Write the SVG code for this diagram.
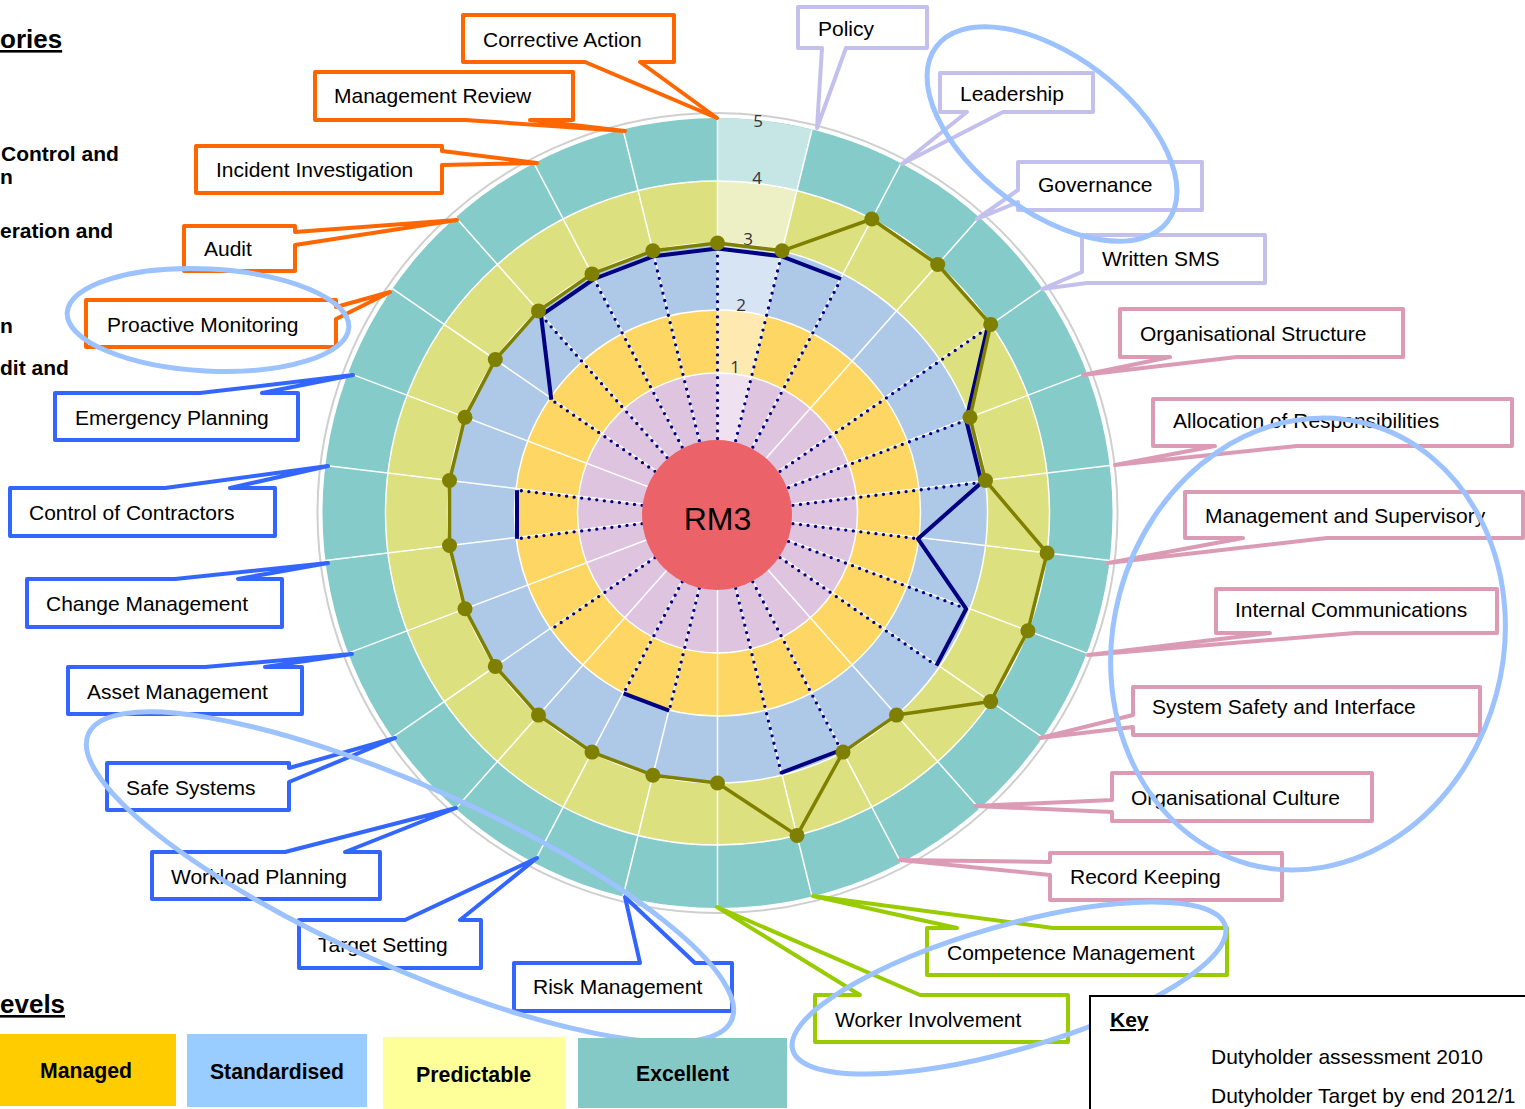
<svg xmlns="http://www.w3.org/2000/svg" width="1525" height="1109" viewBox="0 0 1525 1109">
  <style>
    .lbl { font-family: "Liberation Sans", Arial, sans-serif; font-size: 21px; fill: #000; }
    .bold { font-family: "Liberation Sans", Arial, sans-serif; font-weight: bold; fill: #000; }
    .lvl { font-family: "Open Sans", "DejaVu Sans", sans-serif; font-size: 17px; fill: #333; text-anchor: middle; }
    .spoke { stroke: #fff; stroke-width: 1.5; }
    .ring { fill: none; stroke: #fff; stroke-width: 1.5; }
    .dots { stroke: #000080; stroke-width: 3.3; stroke-linecap: round; stroke-dasharray: 0 7.6; fill: none; }
    .navy { stroke: #000080; stroke-width: 4; fill: none; stroke-linejoin: round; }
    .olive { stroke: #808000; stroke-width: 3.5; fill: none; stroke-linejoin: round; }
    .pt { fill: #808000; }
    .co { fill: #fff; stroke-width: 4; stroke-linejoin: round; }
    .orange { stroke: #ff6600; }
    .blue { stroke: #3366ff; }
    .green { stroke: #99cc00; }
    .pink { stroke: #dc9bb4; }
    .lav { stroke: #c4c0ee; }
    .hl { fill: none; stroke: #9cc2ff; stroke-width: 5; }
    .legtxt { font-family: "Liberation Sans Narrow", "Liberation Sans", Arial, sans-serif; font-weight: bold; font-size: 22px; fill: #000; }
  </style>

  <rect width="1525" height="1109" fill="#fff"/>

  <!-- radar background: five maturity rings round the centre -->
  <g id="radar">
    <circle cx="717.5" cy="513" r="400" fill="none" stroke="#cfcfcf" stroke-width="2"/>
    <circle cx="717.5" cy="513" r="395" fill="#84cbc9"/>
    <circle cx="717.5" cy="513" r="332" fill="#dce07f"/>
    <circle cx="717.5" cy="513" r="270" fill="#adc9e7"/>
    <circle cx="717.5" cy="513" r="203" fill="#fdd664"/>
    <circle cx="717.5" cy="513" r="140" fill="#dfc4e0"/>

    <!-- lighter first sector -->
    <path d="M717.5 513 L717.5 118 A395 395 0 0 1 812 129.5 Z" fill="#c6e5e5"/>
    <path d="M717.5 513 L717.5 181 A332 332 0 0 1 797 190.6 Z" fill="#edf0c5"/>
    <path d="M717.5 513 L717.5 243 A270 270 0 0 1 782.1 250.8 Z" fill="#d7e4f3"/>
    <path d="M717.5 513 L717.5 310 A203 203 0 0 1 766.1 315.9 Z" fill="#feeab1"/>
    <path d="M717.5 513 L717.5 373 A140 140 0 0 1 751 377.1 Z" fill="#efe1ef"/>

    <!-- spokes -->
    <g class="spoke">
      <line x1="717.5" y1="513" x2="717.5" y2="118"/>
      <line x1="717.5" y1="513" x2="812" y2="129.5"/>
      <line x1="717.5" y1="513" x2="901.1" y2="163.2"/>
      <line x1="717.5" y1="513" x2="979.4" y2="217.3"/>
      <line x1="717.5" y1="513" x2="1042.6" y2="288.6"/>
      <line x1="717.5" y1="513" x2="1086.8" y2="372.9"/>
      <line x1="717.5" y1="513" x2="1109.6" y2="465.4"/>
      <line x1="717.5" y1="513" x2="1109.6" y2="560.6"/>
      <line x1="717.5" y1="513" x2="1086.8" y2="653.1"/>
      <line x1="717.5" y1="513" x2="1042.6" y2="737.4"/>
      <line x1="717.5" y1="513" x2="979.4" y2="808.7"/>
      <line x1="717.5" y1="513" x2="901.1" y2="862.8"/>
      <line x1="717.5" y1="513" x2="812" y2="896.5"/>
      <line x1="717.5" y1="513" x2="717.5" y2="908"/>
      <line x1="717.5" y1="513" x2="623" y2="896.5"/>
      <line x1="717.5" y1="513" x2="533.9" y2="862.8"/>
      <line x1="717.5" y1="513" x2="455.6" y2="808.7"/>
      <line x1="717.5" y1="513" x2="392.4" y2="737.4"/>
      <line x1="717.5" y1="513" x2="348.2" y2="653.1"/>
      <line x1="717.5" y1="513" x2="325.4" y2="560.6"/>
      <line x1="717.5" y1="513" x2="325.4" y2="465.4"/>
      <line x1="717.5" y1="513" x2="348.2" y2="372.9"/>
      <line x1="717.5" y1="513" x2="392.4" y2="288.6"/>
      <line x1="717.5" y1="513" x2="455.6" y2="217.3"/>
      <line x1="717.5" y1="513" x2="533.9" y2="163.2"/>
      <line x1="717.5" y1="513" x2="623" y2="129.5"/>
    </g>
    <g class="ring">
      <circle cx="717.5" cy="513" r="140"/>
      <circle cx="717.5" cy="513" r="203"/>
      <circle cx="717.5" cy="513" r="270"/>
      <circle cx="717.5" cy="513" r="332"/>
    </g>

    <!-- level numbers -->
    <text class="lvl" x="758" y="127">5</text>
    <text class="lvl" x="757" y="184">4</text>
    <text class="lvl" x="748" y="245">3</text>
    <text class="lvl" x="741" y="311">2</text>
    <text class="lvl" x="735" y="373">1</text>

    <!-- assessment spokes (dotted) -->
    <g class="dots">
      <line x1="717.5" y1="514.5" x2="717.5" y2="248.5"/>
      <line x1="717.5" y1="514.5" x2="781.2" y2="256.2"/>
      <line x1="717.5" y1="514.5" x2="841.1" y2="279"/>
      <line x1="717.5" y1="514.5" x2="987.4" y2="328.2"/>
      <line x1="717.5" y1="514.5" x2="966.2" y2="420.2"/>
      <line x1="717.5" y1="514.5" x2="981.6" y2="482.4"/>
      <line x1="717.5" y1="514.5" x2="918" y2="538.8"/>
      <line x1="717.5" y1="514.5" x2="966.2" y2="608.8"/>
      <line x1="717.5" y1="514.5" x2="936.4" y2="665.6"/>
      <line x1="717.5" y1="514.5" x2="841.1" y2="750"/>
      <line x1="717.5" y1="514.5" x2="781.2" y2="772.8"/>
      <line x1="717.5" y1="514.5" x2="669.2" y2="710.6"/>
      <line x1="717.5" y1="514.5" x2="623.6" y2="693.4"/>
      <line x1="717.5" y1="514.5" x2="551.3" y2="629.3"/>
      <line x1="717.5" y1="514.5" x2="517" y2="538.8"/>
      <line x1="717.5" y1="514.5" x2="517" y2="490.2"/>
      <line x1="717.5" y1="514.5" x2="551.3" y2="399.7"/>
      <line x1="717.5" y1="514.5" x2="541.1" y2="315.4"/>
      <line x1="717.5" y1="514.5" x2="593.9" y2="279"/>
      <line x1="717.5" y1="514.5" x2="653.8" y2="256.2"/>
    </g>
  </g>

  <!-- centre node -->
  <g id="rm3">
    <circle cx="717" cy="515" r="75" fill="#eb6369"/>
    <text x="717.5" y="530" text-anchor="middle" style="font-family:'Liberation Sans',Arial,sans-serif;font-size:32px;fill:#000">RM3</text>
  </g>

  <!-- assessment 2010 and target traces -->
  <g id="traces">
    <polyline class="navy" points="551.3,399.7 541.1,315.4 593.9,279 653.8,256.2 717.5,248.5 781.2,256.2 841.1,279"/>
    <polyline class="navy" points="987.4,328.2 966.2,420.2 981.6,482.4 918,538.8 966.2,608.8 936.4,665.6"/>
    <polyline class="navy" points="841.1,750 781.2,772.8"/>
    <polyline class="navy" points="669.2,710.6 623.6,693.4"/>
    <polyline class="navy" points="517,538.8 517,490.2"/>
    <polygon class="olive" points="717.5,243 782.1,250.8 871.8,219 937.7,264.5 990.7,324.4 970,417.3 985.5,480.5 1047.1,553 1027.9,630.7 990.7,701.6 896.5,715.1 843,752.1 797,835.4 717.5,783 652.9,775.2 592,752.1 538.5,715.1 495.3,666.4 465,608.7 449.5,545.5 449.5,480.5 465,417.3 495.3,359.6 538.5,310.9 592,273.9 652.9,250.8"/>
    <g class="pt">
      <circle cx="717.5" cy="243" r="7.5"/>
      <circle cx="782.1" cy="250.8" r="7.5"/>
      <circle cx="871.8" cy="219" r="7.5"/>
      <circle cx="937.7" cy="264.5" r="7.5"/>
      <circle cx="990.7" cy="324.4" r="7.5"/>
      <circle cx="970" cy="417.3" r="7.5"/>
      <circle cx="985.5" cy="480.5" r="7.5"/>
      <circle cx="1047.1" cy="553" r="7.5"/>
      <circle cx="1027.9" cy="630.7" r="7.5"/>
      <circle cx="990.7" cy="701.6" r="7.5"/>
      <circle cx="896.5" cy="715.1" r="7.5"/>
      <circle cx="843" cy="752.1" r="7.5"/>
      <circle cx="797" cy="835.4" r="7.5"/>
      <circle cx="717.5" cy="783" r="7.5"/>
      <circle cx="652.9" cy="775.2" r="7.5"/>
      <circle cx="592" cy="752.1" r="7.5"/>
      <circle cx="538.5" cy="715.1" r="7.5"/>
      <circle cx="495.3" cy="666.4" r="7.5"/>
      <circle cx="465" cy="608.7" r="7.5"/>
      <circle cx="449.5" cy="545.5" r="7.5"/>
      <circle cx="449.5" cy="480.5" r="7.5"/>
      <circle cx="465" cy="417.3" r="7.5"/>
      <circle cx="495.3" cy="359.6" r="7.5"/>
      <circle cx="538.5" cy="310.9" r="7.5"/>
      <circle cx="592" cy="273.9" r="7.5"/>
      <circle cx="652.9" cy="250.8" r="7.5"/>
    </g>
  </g>

  <!-- callout pointers: each wedge runs from its box to a spoke end -->
  <g id="callouts">
    <g id="corrective-action">
      <path class="co orange" d="M463 15 H674 V62 H640 L717 118 L585 62 H463 Z"/>
      <text class="lbl" x="483" y="47">Corrective Action</text>
    </g>
    <g id="management-review">
      <path class="co orange" d="M315 72 H573 V120 H530 L625 131 L465 120 H315 Z"/>
      <text class="lbl" x="334" y="103">Management Review</text>
    </g>
    <g id="incident-investigation">
      <path class="co orange" d="M196 146 H442 V151 L537 163 L442 165 V193 H196 Z"/>
      <text class="lbl" x="216" y="177">Incident Investigation</text>
    </g>
    <g id="audit">
      <path class="co orange" d="M184 226 H295 V232 L457 220 L295 245 V271 H184 Z"/>
      <text class="lbl" x="204" y="256">Audit</text>
    </g>
    <g id="proactive-monitoring">
      <path class="co orange" d="M86 300 H336 V307 L390 292 L336 319 V347 H86 Z"/>
      <text class="lbl" x="107" y="332">Proactive Monitoring</text>
    </g>

    <g id="emergency-planning">
      <path class="co blue" d="M55 393 H200 L353 375 L262 393 H298 V440 H55 Z"/>
      <text class="lbl" x="75" y="425">Emergency Planning</text>
    </g>
    <g id="control-of-contractors">
      <path class="co blue" d="M10 488 H165 L328 466 L230 488 H275 V536 H10 Z"/>
      <text class="lbl" x="29" y="520">Control of Contractors</text>
    </g>
    <g id="change-management">
      <path class="co blue" d="M27 579 H175 L328 563 L238 579 H282 V627 H27 Z"/>
      <text class="lbl" x="46" y="611">Change Management</text>
    </g>
    <g id="asset-management">
      <path class="co blue" d="M68 667 H205 L352 654 L265 667 H302 V714 H68 Z"/>
      <text class="lbl" x="87" y="699">Asset Management</text>
    </g>
    <g id="safe-systems">
      <path class="co blue" d="M107 763 H289 V768 L395 738 L289 782 V810 H107 Z"/>
      <text class="lbl" x="126" y="795">Safe Systems</text>
    </g>
    <g id="workload-planning">
      <path class="co blue" d="M152 852 H285 L456 808 L345 852 H380 V899 H152 Z"/>
      <text class="lbl" x="171" y="884">Workload Planning</text>
    </g>
    <g id="target-setting">
      <path class="co blue" d="M299 920 H405 L537 858 L460 920 H481 V968 H299 Z"/>
      <text class="lbl" x="318" y="952">Target Setting</text>
    </g>
    <g id="risk-management">
      <path class="co blue" d="M514 963 H640 L625 897 L695 963 H732 V1011 H514 Z"/>
      <text class="lbl" x="533" y="994">Risk Management</text>
    </g>

    <g id="worker-involvement">
      <path class="co green" d="M815 995 H860 L717 907 L920 995 H1068 V1042 H815 Z"/>
      <text class="lbl" x="835" y="1027">Worker Involvement</text>
    </g>
    <g id="competence-management">
      <path class="co green" d="M927 928 H957 L813 896 L1053 928 H1227 V975 H927 Z"/>
      <text class="lbl" x="947" y="960">Competence Management</text>
    </g>

    <g id="record-keeping">
      <path class="co pink" d="M1050 853 H1282 V900 H1050 V875 L900 860 L1050 862 Z"/>
      <text class="lbl" x="1070" y="884">Record Keeping</text>
    </g>
    <g id="organisational-culture">
      <path class="co pink" d="M1112 773 H1372 V821 H1112 V812 L975 806 L1112 800 Z"/>
      <text class="lbl" x="1131" y="805">Organisational Culture</text>
    </g>
    <g id="system-safety">
      <path class="co pink" d="M1133 687 H1480 V735 H1133 V727 L1040 738 L1133 715 Z"/>
      <text class="lbl" x="1152" y="714">System Safety and Interface</text>
    </g>
    <g id="internal-communications">
      <path class="co pink" d="M1216 589 H1497 V633 H1355 L1088 655 L1270 633 H1216 Z"/>
      <text class="lbl" x="1235" y="617">Internal Communications</text>
    </g>
    <g id="management-supervisory">
      <path class="co pink" d="M1185 492 H1523 V538 H1327 L1108 563 L1243 538 H1185 Z"/>
      <text class="lbl" x="1205" y="523">Management and Supervisory</text>
    </g>
    <g id="allocation-responsibilities">
      <path class="co pink" d="M1153 399 H1512 V446 H1297 L1115 465 L1215 446 H1153 Z"/>
      <text class="lbl" x="1173" y="428">Allocation of Responsibilities</text>
    </g>
    <g id="organisational-structure">
      <path class="co pink" d="M1120 309 H1403 V357 H1237 L1083 375 L1170 357 H1120 Z"/>
      <text class="lbl" x="1140" y="341">Organisational Structure</text>
    </g>

    <g id="written-sms">
      <path class="co lav" d="M1082 235 H1265 V283 H1087 L1042 289 L1082 272 Z"/>
      <text class="lbl" x="1102" y="266">Written SMS</text>
    </g>
    <g id="governance">
      <path class="co lav" d="M1018 162 H1202 V210 H1018 V202 L977 219 L1018 190 Z"/>
      <text class="lbl" x="1038" y="192">Governance</text>
    </g>
    <g id="leadership">
      <path class="co lav" d="M940 73 H1093 V112 H1003 L902 164 L967 112 H940 Z"/>
      <text class="lbl" x="960" y="101">Leadership</text>
    </g>
    <g id="policy">
      <path class="co lav" d="M798 7 H927 V48 H846 L817 128 L822 48 H798 Z"/>
      <text class="lbl" x="818" y="36">Policy</text>
    </g>
  </g>

  <!-- highlight rings -->
  <g id="highlights">
    <ellipse class="hl" cx="1052" cy="134" rx="145" ry="78" transform="rotate(37 1052 134)"/>
    <ellipse class="hl" cx="208" cy="320" rx="141" ry="51" transform="rotate(3 208 320)"/>
    <ellipse class="hl" cx="1308" cy="644" rx="195" ry="228" transform="rotate(15 1308 644)"/>
    <ellipse class="hl" cx="410" cy="877" rx="352" ry="90" transform="rotate(24 410 877)"/>
    <ellipse class="hl" cx="1009" cy="988" rx="225" ry="62" transform="rotate(-16 1009 988)"/>
  </g>

  <!-- side headings (cut at the page edge) -->
  <g id="side-text">
    <text class="bold" x="0" y="48" font-size="26" text-decoration="underline">ories</text>
    <text class="bold" x="1" y="161" font-size="21">Control and</text>
    <text class="bold" x="0" y="184" font-size="21">n</text>
    <text class="bold" x="0" y="238" font-size="21">eration and</text>
    <text class="bold" x="0" y="333" font-size="21">n</text>
    <text class="bold" x="0" y="375" font-size="21">dit and</text>
    <text class="bold" x="0" y="1013" font-size="26" text-decoration="underline">evels</text>
  </g>

  <!-- level legend -->
  <g id="legend">
    <rect x="0" y="1034" width="176" height="72" fill="#ffcc00"/>
    <rect x="187" y="1034" width="180" height="73" fill="#99ccff"/>
    <rect x="383" y="1037" width="182" height="72" fill="#ffff99"/>
    <rect x="578" y="1038" width="209" height="70" fill="#85c9c7"/>
    <text class="legtxt" x="40" y="1078" textLength="92" lengthAdjust="spacingAndGlyphs">Managed</text>
    <text class="legtxt" x="210" y="1079" textLength="134" lengthAdjust="spacingAndGlyphs">Standardised</text>
    <text class="legtxt" x="416" y="1082" textLength="115" lengthAdjust="spacingAndGlyphs">Predictable</text>
    <text class="legtxt" x="636" y="1081" textLength="93" lengthAdjust="spacingAndGlyphs">Excellent</text>
  </g>

  <!-- key -->
  <g id="key">
    <rect x="1090" y="996" width="450" height="130" fill="#fff" stroke="#000" stroke-width="2"/>
    <text class="bold" x="1110" y="1027" font-size="21" text-decoration="underline">Key</text>
    <text class="lbl" x="1211" y="1064">Dutyholder assessment 2010</text>
    <text class="lbl" x="1211" y="1103">Dutyholder Target by end 2012/1</text>
  </g>
</svg>
